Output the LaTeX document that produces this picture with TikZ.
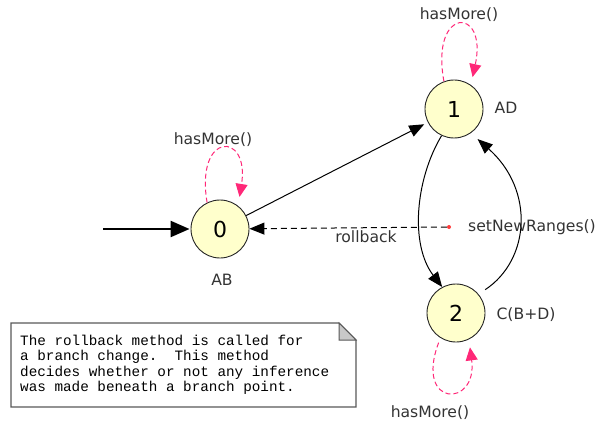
\documentclass[tikz,border=0pt]{standalone}
\usepackage{fontspec}
\setmainfont{DejaVu Sans}
\newfontfamily\notefont{Liberation Mono}
\usepackage{tikz}
\usetikzlibrary{arrows.meta}

\definecolor{statefill}{RGB}{255,255,204}
\definecolor{loopred}{RGB}{255,40,120}
\definecolor{dotred}{RGB}{255,60,60}
\definecolor{foldgray}{RGB}{200,200,200}

\begin{document}
\begin{tikzpicture}[
    x=1pt, y=-1pt,
    state/.style={circle, draw=black!85, fill=statefill, line width=0.9pt, minimum size=58pt, inner sep=0pt, font=\fontsize{22}{22}\selectfont},
    tag/.style={font=\fontsize{15.6}{16}\selectfont, text=black!80},
    trans/.style={draw=black, line width=1pt, -{Triangle[length=15pt,width=12pt]}},
    back/.style={trans, dash pattern=on 6pt off 4pt},
    selfloop/.style={draw=loopred, line width=1pt, dash pattern=on 5pt off 3pt, -{Triangle[length=13pt,width=12pt]}},
    notebox/.style={draw=black!65, fill=white, line width=1.2pt},
    fold/.style={draw=black!65, fill=foldgray, line width=1pt},
    notetext/.style={font=\notefont\fontsize{14.3}{15.3}\selectfont, align=left, inner sep=0pt}
]
\useasboundingbox (0,0) rectangle (597,425);

% --- States ---
\node[state] (s0) at (220,229) {0};
\node[state] (s1) at (454,109) {1};
\node[state] (s2) at (456,313) {2};

% --- State labels ---
\node[tag] (l0) at (222,280) {AB};
\node[tag] (l1) at (506,108) {AD};
\node[tag] (l2) at (526,315) {C(B+D)};

% --- Entry point and rollback origin ---
\coordinate (entry) at (103,229);
\node[circle, fill=dotred, inner sep=0pt, minimum size=4pt] (rb) at (449,227) {};
\node[tag] (nr) at (532,227) {setNewRanges()};
\node[tag] (rl) at (366,237) {rollback};

% --- Transitions ---
\draw[draw=black, line width=2.4pt, -{Triangle[length=19pt,width=16pt]}, shorten >=1pt] (entry) -- (s0);
\draw[trans, shorten >=4pt] (s0) -- (s1);
\draw[trans] (s1.245) .. controls (415,180) and (410,245) .. (s2.118);
\draw[trans, shorten <=8pt, shorten >=9pt] (s2.40) .. controls (530,260) and (535,190) .. (s1.-55);
\draw[back] (rb) -- (s0);

% --- hasMore() self loops ---
\node[tag] (h0) at (213,140) {hasMore()};
\node[tag] (h1) at (459,15) {hasMore()};
\node[tag] (h2) at (430,413) {hasMore()};

\draw[selfloop, shorten >=9pt] (s0.116) .. controls (195,131) and (250,131) .. (s0.52);
\draw[selfloop, shorten >=8pt] (s1.110) .. controls (430,6) and (488,6) .. (s1.55);
\draw[selfloop, shorten <=5pt, shorten >=8pt] (s2.238) .. controls (414,408) and (478,408) .. (s2.296);

% --- Comment note ---
\draw[notebox] (11,323) -- (339,323) -- (356,340) -- (356,407) -- (11,407) -- cycle;
\draw[fold] (339,323) -- (339,340) -- (356,340) -- cycle;
\node[notetext, anchor=north west] (note) at (20,335)
    {The rollback method is called for\\
     a branch change.\ \ This method\\
     decides whether or not any inference\\
     was made beneath a branch point.};

\end{tikzpicture}
\end{document}
